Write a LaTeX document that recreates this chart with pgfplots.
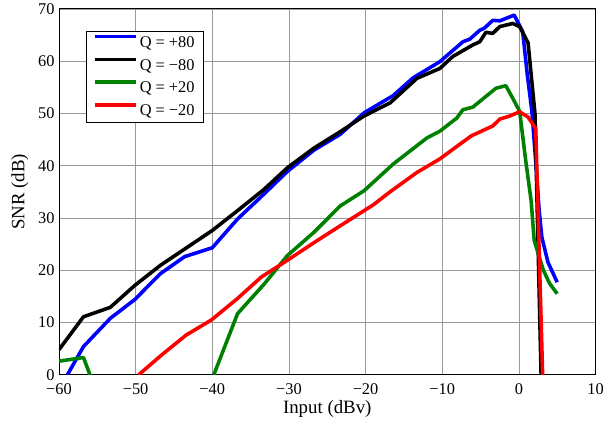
\documentclass[border=0pt]{standalone}
\usepackage{pgfplots}
\pgfplotsset{compat=1.18}
\usepackage{fontspec}
\setmainfont{Liberation Serif}
\definecolor{mgreen}{RGB}{0,128,0}
\begin{document}
\begin{tikzpicture}
\begin{axis}[
  scale only axis,
  width=541pt, height=369pt,
  xmin=-60, xmax=10, ymin=0, ymax=70,
  xtick={-60,-50,-40,-30,-20,-10,0,10},
  xticklabels={−60,−50,−40,−30,−20,−10,0,10},
  ytick={0,10,20,30,40,50,60,70},
  yticklabels={0,10,20,30,40,50,60,70},
  tick label style={font=\fontsize{16.5}{19}\selectfont},
  label style={font=\fontsize{19}{23}\selectfont},
  xticklabel style={yshift=-5pt},
  yticklabel style={xshift=-1pt},
  xlabel={Input (dBv)},
  ylabel={SNR (dB)},
  xlabel style={yshift=1pt},
  ylabel style={yshift=3pt},
  grid=major,
  major grid style={gray!80, line width=0.6pt},
  major tick length=0pt,
  axis line style={line width=0.9pt},
  every axis plot/.append style={line width=3.6pt, line join=round},
  legend style={at={(0.051,0.939)}, anchor=north west, draw=black, line width=0.6pt,
    font=\fontsize{16.5}{18}\selectfont, cells={anchor=west}, row sep=6.5pt,
    inner xsep=7pt, inner ysep=3pt},
  legend image code/.code={\draw[#1] (-2pt,6pt) -- (39pt,6pt);},
]
\addplot[blue] coordinates {
(-58.9,0) (-56.8,5.4) (-53.3,10.8) (-50.1,14.4) (-46.8,19.3) (-43.6,22.6) (-40,24.3)
(-36.7,29.8) (-33.3,34.5) (-30.2,38.9) (-26.7,43.0) (-23.3,46.0) (-20.2,50.1)
(-16.4,53.4) (-13.8,56.8) (-10.3,59.9) (-7.3,63.7) (-6.4,64.2) (-5.1,65.9) (-4.5,66.3)
(-3.4,67.8) (-2.5,67.7) (-0.6,68.8) (0.5,65.6) (1.1,57.4) (1.7,50.4) (2.2,40.9)
(2.65,31.4) (3.0,26.3) (3.8,21.5) (5.0,17.7)
};
\addlegendentry{Q = +80}
\addplot[black] coordinates {
(-60,4.8) (-56.8,11.1) (-53.3,12.9) (-50.1,17.1) (-46.8,20.9) (-40,27.6) (-36.7,31.4)
(-33.3,35.4) (-30.2,39.6) (-26.7,43.4) (-23.3,46.5) (-20.2,49.5) (-16.8,52.0)
(-13.3,56.7) (-10.3,58.6) (-8.6,60.9) (-6.0,63.1) (-5.1,63.7) (-4.3,65.5) (-3.4,65.3)
(-2.5,66.6) (-0.8,67.2) (0.1,66.6) (1.2,63.5) (2.1,50.0) (2.9,0)
};
\addlegendentry{Q = −80}
\addplot[mgreen] coordinates {
(-60,2.6) (-56.8,3.3) (-55.7,-1)
};
\addlegendentry{Q = +20}
\addplot[mgreen, forget plot] coordinates {
(-39.8,0) (-36.7,11.7) (-33.2,17.4) (-30.2,22.8) (-26.7,27.3) (-23.3,32.3) (-20.2,35.2)
(-16.4,40.3) (-12.0,45.3) (-10.3,46.6) (-8.1,49.1) (-7.3,50.7) (-6.0,51.2) (-3.0,54.8)
(-1.7,55.3) (-0.8,52.9) (0.1,50.4) (0.9,40.9) (1.6,33.3) (2.0,25.7) (3.2,20.0)
(4.0,17.5) (5.0,15.5)
};
\addplot[red] coordinates {
(-49.6,0) (-46.6,3.8) (-43.4,7.6) (-40.1,10.5) (-36.7,14.6) (-33.6,18.7) (-30.2,21.9)
(-26.7,25.3) (-23.3,28.5) (-19.0,32.5) (-16.8,35.0) (-13.3,38.7) (-10.3,41.3)
(-7.7,44.1) (-6.2,45.7) (-3.4,47.6) (-2.5,48.9) (-1.2,49.5) (0.1,50.3) (1.2,49.3)
(2.2,47.1) (3.1,0)
};
\addlegendentry{Q = −20}
\end{axis}
\path ([xshift=-8pt]current bounding box.west) ([yshift=-8pt]current bounding box.south);
\end{tikzpicture}
\end{document}
